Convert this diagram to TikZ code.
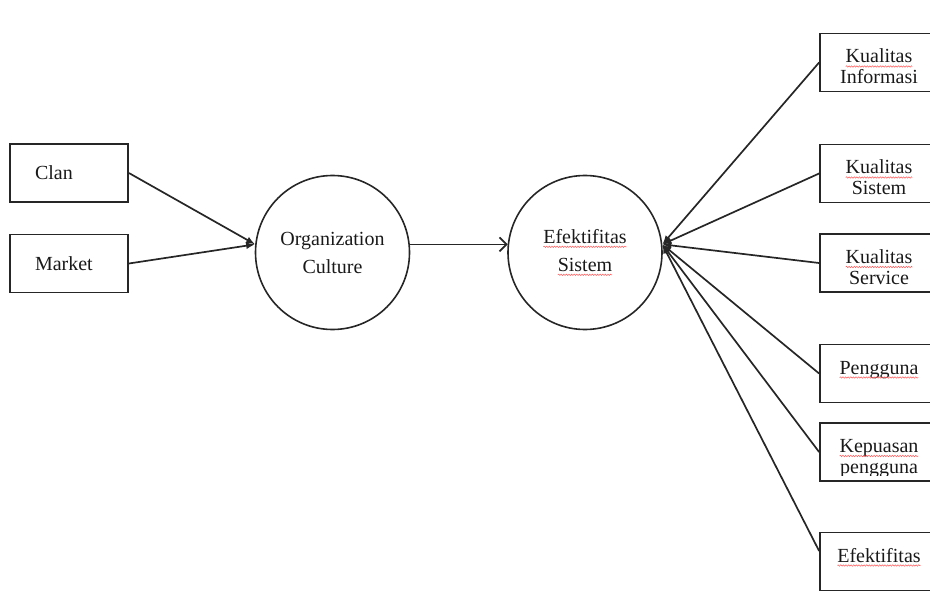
\documentclass[tikz,border=0pt]{standalone}
\usepackage{fontspec}
\setmainfont{Liberation Serif}
\usetikzlibrary{arrows.meta,decorations.pathmorphing}
\tikzset{
  plainword/.style={draw=none, fill=none, rectangle, inner sep=0pt, outer sep=0pt,
    minimum width=0pt, minimum height=0pt, text height=, text depth=, text width=},
  squiggle/.style={draw=red!65, line width=0.5pt, decorate,
    decoration={snake, amplitude=0.7pt, segment length=2.6pt}}
}
% word with a red wavy spell-check underline
\newcommand\spellmark[1]{\tikz[baseline=(w.base)]{%
  \node[plainword] (w) {#1};%
  \path[squiggle] ([yshift=-3.5pt]w.base west) -- ([yshift=-3.5pt]w.base east);}}
\begin{document}
\begin{tikzpicture}[x=1pt,y=-1pt,
  font=\fontsize{20}{21}\selectfont,
  every node/.style={text=black!90},
  box/.style={draw=black!85, line width=1.8pt, minimum width=118pt, minimum height=58pt, inner sep=0pt},
  lbox/.style={box, inner xsep=25pt, text width=68pt, align=left},
  rbox/.style={box, align=center, text height=22pt, text depth=21pt},
  rboxtwo/.style={box, align=center, text height=43pt, text depth=0pt},
  circ/.style={circle, draw=black!85, line width=1.6pt, minimum size=154pt, inner sep=0pt, align=center,
    font=\fontsize{20}{28}\selectfont},
  arr/.style={draw=black!85, line width=1.7pt, -{Latex[length=9pt,width=7pt]}},
  openarr/.style={draw=black!85, line width=1.7pt, -{Straight Barb[length=7pt,width=14pt]}}]
\useasboundingbox (0,0) rectangle (930,591);
\clip (0,0) rectangle (930,591);

% inputs on the left
\node[lbox] (clan) at (69,173) {Clan};
\node[lbox] (market) at (69,263.5) {Market};

% constructs
\node[circ] (oc) at (332.5,252.5) {Organization\\Culture};
\node[circ] (es) at (585,252.5) {\spellmark{Efektifitas}\\\spellmark{Sistem}};

% dimensions on the right
\node[rboxtwo] (ki) at (879,62.5) {\spellmark{Kualitas}\\Informasi};
\node[rboxtwo] (ks) at (879,173.5) {\spellmark{Kualitas}\\Sistem};
\node[rboxtwo] (ksv) at (879,263) {\spellmark{Kualitas}\\Service};
\node[rbox] (pg) at (879,373.5) {\spellmark{Pengguna}};
\node[rboxtwo] (kp) at (879,452) {\spellmark{Kepuasan}\\pengguna};
\node[rbox] (ef) at (879,561.5) {\spellmark{Efektifitas}};
% the text frame cuts off the descenders of the last line
\fill[white] ([xshift=2pt,yshift=1.6pt]kp.south west) rectangle ([yshift=5.5pt]kp.south east);

% connectors
\draw[arr] (clan.east) -- (oc.174);
\draw[arr] (market.east) -- (oc.174);
\draw[openarr] (oc.6) -- (es.174);
\foreach \n in {ki,ks,ksv,pg,kp}
  \draw[arr] (\n.west) -- (es.6);
\draw[arr] (ef.170) -- (es.6);
\end{tikzpicture}
\end{document}
